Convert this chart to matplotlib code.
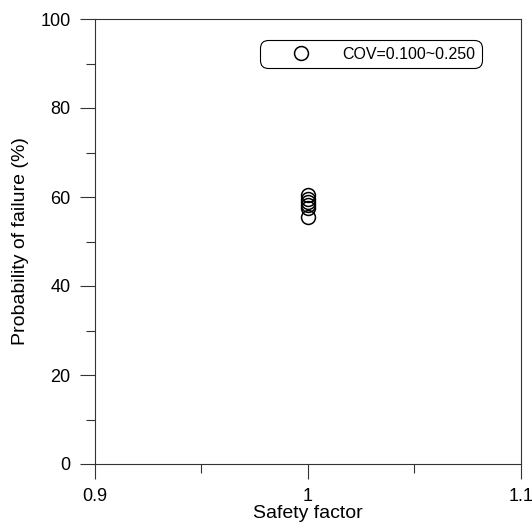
import matplotlib
matplotlib.use("Agg")
import matplotlib.pyplot as plt
from matplotlib.ticker import MultipleLocator

plt.rcParams['font.family'] = ['Liberation Sans', 'DejaVu Sans']

safety_factor = [1.0, 1.0, 1.0, 1.0, 1.0, 1.0]
prob_failure = [60.4, 59.6, 58.9, 58.2, 57.6, 55.6]
series_label = "COV=0.100~0.250"
x_ticks = [0.9, 1.0, 1.1]
x_ticklabels = ['0.9', '1', '1.1']

fig = plt.figure(figsize=(5.32, 5.30), dpi=100)
ax = fig.add_axes([95/532, 66/530, 426/532, 445/530])

ax.plot(safety_factor, prob_failure, linestyle='none', marker='o', markersize=10,
        markerfacecolor='none', markeredgecolor='black', markeredgewidth=1.1,
        label=series_label)

ax.set_xlim(0.9, 1.1)
ax.set_ylim(0, 100)
ax.set_xticks(x_ticks)
ax.set_xticklabels(x_ticklabels)
ax.xaxis.set_minor_locator(MultipleLocator(0.05))
ax.yaxis.set_major_locator(MultipleLocator(20))
ax.yaxis.set_minor_locator(MultipleLocator(10))

ax.tick_params(which='major', direction='out', length=11, width=0.8, labelsize=13, pad=6.5,
               color='#333333')
ax.tick_params(which='minor', direction='out', length=6.5, width=0.8, color='#333333')
for s in ax.spines.values():
    s.set_linewidth(0.8)
    s.set_color('#333333')

ax.set_xlabel('Safety factor', fontsize=14, labelpad=0)
ax.set_ylabel('Probability of failure (%)', fontsize=14, labelpad=8)

leg = ax.legend(loc='upper right', bbox_to_anchor=((482-95)/426, (464-40)/445), fontsize=11.5,
                frameon=True, fancybox=True, edgecolor='black', framealpha=1,
                handlelength=4.35, handletextpad=0.39, borderpad=0.42, borderaxespad=0)
leg.get_frame().set_linewidth(0.8)
leg.get_frame().set_boxstyle('round,pad=0,rounding_size=0.5')

fig.savefig('out.png', dpi=100)
